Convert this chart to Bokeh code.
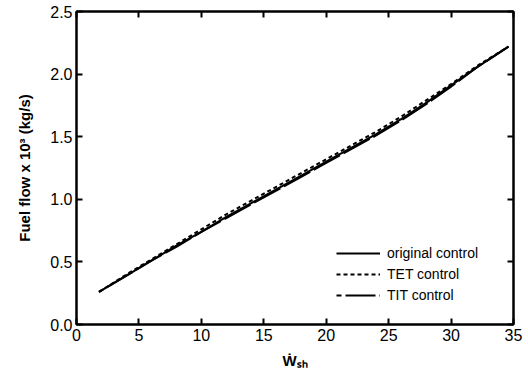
from bokeh.plotting import figure
from bokeh.models import LinearAxis, Range1d, NumeralTickFormatter, Legend, LegendItem, FixedTicker
from bokeh.embed import file_html
from bokeh.resources import INLINE

# data
w_sh = [1.8, 4, 6, 8, 10, 12, 14, 16, 18, 20, 22, 24, 26, 28, 30, 32, 34.6]
fuel_original = [0.26, 0.39, 0.51, 0.63, 0.74, 0.86, 0.97, 1.08, 1.19, 1.30, 1.41, 1.52, 1.64, 1.77, 1.91, 2.05, 2.22]
fuel_tet = [0.26, 0.40, 0.52, 0.64, 0.76, 0.88, 0.99, 1.10, 1.21, 1.32, 1.43, 1.54, 1.66, 1.79, 1.92, 2.06, 2.22]
fuel_tit = [0.26, 0.39, 0.51, 0.62, 0.74, 0.85, 0.96, 1.07, 1.18, 1.29, 1.40, 1.51, 1.63, 1.76, 1.90, 2.05, 2.22]
series_names = ["original control", "TET control", "TIT control"]
x_ticks = [0, 5, 10, 15, 20, 25, 30, 35]
y_ticks = [0.0, 0.5, 1.0, 1.5, 2.0, 2.5]

FONT = "Liberation Sans"

p = figure(width=528, height=376, output_backend="svg", toolbar_location=None,
           x_range=Range1d(0, 35), y_range=Range1d(0, 2.5),
           min_border_left=76, min_border_right=15, min_border_top=11, min_border_bottom=52)
p.grid.visible = False
p.background_fill_color = "white"
p.border_fill_color = "white"
p.outline_line_color = "black"
p.outline_line_width = 2

r1 = p.line(w_sh, fuel_original, line_color="black", line_width=2)
r2 = p.line(w_sh, fuel_tet, line_color="black", line_width=2, line_dash="4 3")
r3 = p.line(w_sh, fuel_tit, line_color="black", line_width=2, line_dash="30 4", line_dash_offset=25)

def style(ax, labels=True):
    ax.axis_line_width = 2
    ax.axis_line_color = "black"
    ax.major_tick_in = 6
    ax.major_tick_out = 0
    ax.major_tick_line_width = 2
    ax.minor_tick_line_color = None
    ax.major_label_text_font = FONT
    if labels:
        ax.major_label_text_color = "black"
        ax.major_label_text_font_size = "16px"
        ax.major_label_standoff = 4
    else:
        ax.major_label_text_color = None
        ax.major_label_standoff = 0

xa = p.xaxis[0]
ya = p.yaxis[0]
xa.ticker = FixedTicker(ticks=x_ticks)
ya.ticker = FixedTicker(ticks=y_ticks)
ya.formatter = NumeralTickFormatter(format="0.0")
style(xa)
style(ya)
xa.axis_label = "Ẇₛₕ"
ya.axis_label = "Fuel flow x 10³ (kg/s)"
for ax in (xa, ya):
    ax.axis_label_text_font = FONT
    ax.axis_label_text_font_style = "bold"
    ax.axis_label_text_font_size = "15px"
    ax.axis_label_text_color = "black"
xa.axis_label_standoff = 8
ya.axis_label_standoff = 14

top = LinearAxis(ticker=FixedTicker(ticks=x_ticks))
right = LinearAxis(ticker=FixedTicker(ticks=y_ticks))
style(top, labels=False)
style(right, labels=False)
p.add_layout(top, "above")
p.add_layout(right, "right")

legend = Legend(items=[LegendItem(label=series_names[0], renderers=[r1]),
                       LegendItem(label=series_names[1], renderers=[r2]),
                       LegendItem(label=series_names[2], renderers=[r3])],
                location=(260, 19), padding=0, margin=0, spacing=1,
                glyph_width=44, glyph_height=20, label_height=20, label_standoff=7,
                border_line_color=None, background_fill_alpha=0,
                label_text_font=FONT, label_text_font_size="14px", label_text_color="black")
p.add_layout(legend)

open("out.html", "w").write(file_html(p, INLINE))
